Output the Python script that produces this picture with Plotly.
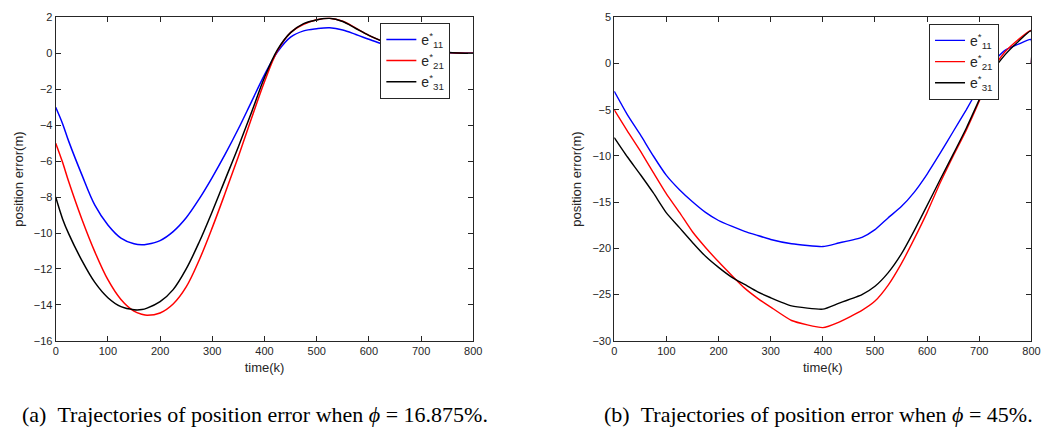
import plotly.graph_objects as go

# ---------------- data: panel (a), phi = 16.875% ----------------
time_a = [0, 13, 25, 50, 75, 100, 125, 150, 165, 175, 200, 225, 250, 275, 300, 325,
          350, 375, 400, 425, 450, 475, 500, 525, 550, 575, 600, 625, 650, 700, 750, 800]
e11_a = [-3.0, -3.9, -4.9, -6.75, -8.45, -9.55, -10.28, -10.6, -10.66, -10.63, -10.42, -9.92,
         -9.15, -8.1, -6.9, -5.6, -4.2, -2.7, -1.2, 0.08, 0.9, 1.25, 1.37, 1.42, 1.3, 1.05,
         0.78, 0.52, 0.3, 0.12, 0.05, 0.0]
e21_a = [-5.0, -6.05, -7.15, -9.22, -11.05, -12.6, -13.7, -14.35, -14.52, -14.58, -14.45, -13.95,
         -13.0, -11.5, -9.7, -7.75, -5.74, -3.63, -1.58, 0.15, 1.15, 1.62, 1.87, 1.95, 1.78,
         1.4, 1.0, 0.68, 0.4, 0.15, 0.05, 0.0]
e31_a = [-8.0, -9.2, -10.05, -11.52, -12.75, -13.6, -14.1, -14.27, -14.26, -14.18, -13.82, -13.15,
         -12.0, -10.5, -8.8, -7.0, -5.2, -3.3, -1.35, 0.2, 1.15, 1.65, 1.86, 1.95, 1.77,
         1.38, 1.0, 0.68, 0.4, 0.15, 0.05, 0.0]

# ---------------- data: panel (b), phi = 45% ----------------
time_b = [0, 25, 50, 75, 100, 125, 150, 175, 200, 225, 250, 275, 300, 340, 400, 430, 475,
          500, 525, 550, 575, 600, 625, 650, 675, 700, 725, 750, 775, 799, 800]
e11_b = [-3.0, -5.52, -7.7, -10.0, -12.1, -13.65, -14.95, -16.1, -16.98, -17.6, -18.15, -18.6,
         -19.03, -19.5, -19.8, -19.42, -18.8, -17.97, -16.7, -15.5, -13.93, -11.95, -9.7,
         -7.35, -5.0, -2.5, 0.1, 1.45, 2.1, 2.6, 0.0]
e21_b = [-5.0, -7.28, -9.45, -11.8, -14.1, -16.1, -18.2, -19.9, -21.45, -22.9, -24.3, -25.4,
         -26.35, -27.8, -28.57, -28.0, -26.7, -25.7, -24.0, -21.7, -19.0, -16.1, -12.9,
         -10.0, -7.2, -4.05, -0.6, 1.3, 2.6, 3.6, 0.0]
e31_b = [-8.0, -10.08, -12.0, -14.0, -16.15, -17.75, -19.35, -20.85, -22.05, -23.1, -23.9, -24.7,
         -25.34, -26.22, -26.57, -25.95, -25.0, -24.1, -22.65, -20.65, -18.1, -15.35, -12.54,
         -9.8, -7.0, -3.9, -0.9, 1.0, 2.4, 3.53, 0.0]

names = ["e<sup>*</sup><sub>11</sub>", "e<sup>*</sup><sub>21</sub>", "e<sup>*</sup><sub>31</sub>"]
colors = ["#0000ff", "#ff0000", "#000000"]

xticks = [0, 100, 200, 300, 400, 500, 600, 700, 800]
yticks_a = [2, 0, -2, -4, -6, -8, -10, -12, -14, -16]
yticks_b = [5, 0, -5, -10, -15, -20, -25, -30]

captions = ["(a)\u00a0\u00a0Trajectories of position error when <i>\u03d5</i> = 16.875%.",
            "(b)\u00a0\u00a0Trajectories of position error when <i>\u03d5</i> = 45%."]

W, H = 1053, 436
fig = go.Figure()

for i, (ys, nm, c) in enumerate(zip([e11_a, e21_a, e31_a], names, colors)):
    fig.add_trace(go.Scatter(x=time_a, y=ys, name=nm, mode="lines",
                             line=dict(color=c, width=1.5, shape="spline", smoothing=1.0),
                             xaxis="x", yaxis="y", legend="legend", legendgroup="a%d" % i))
for i, (ys, nm, c) in enumerate(zip([e11_b, e21_b, e31_b], names, colors)):
    fig.add_trace(go.Scatter(x=time_b, y=ys, name=nm, mode="lines",
                             line=dict(color=c, width=1.4, shape="spline", smoothing=0.5),
                             xaxis="x2", yaxis="y2", legend="legend2", legendgroup="b%d" % i))

axcol = "#262626"
tickfont = dict(family="Liberation Sans, Arial", size=11, color=axcol)
titlefont = dict(family="Liberation Sans, Arial", size=13, color=axcol)

def xax(domain, anchor):
    return dict(domain=domain, anchor=anchor, range=[0, 800], tickvals=xticks,
                ticks="inside", ticklen=5, tickcolor=axcol, showline=True, linecolor=axcol,
                linewidth=1, mirror="ticks", showgrid=False, zeroline=False,
                tickfont=tickfont, title=dict(text="time(k)", font=titlefont, standoff=6))

def yax(domain, anchor, rng, tv):
    return dict(domain=domain, anchor=anchor, range=rng, tickvals=tv,
                ticks="inside", ticklen=5, tickcolor=axcol, showline=True, linecolor=axcol,
                linewidth=1, mirror="ticks", showgrid=False, zeroline=False,
                tickfont=tickfont, title=dict(text="position error(m)", font=titlefont, standoff=7))

legfont = dict(family="Liberation Sans, Arial", size=14, color=axcol)
ydom = [1 - 344.3 / H, 1 - 11.7 / H]
fig.update_layout(
    width=W, height=H, margin=dict(l=0, r=0, t=0, b=0),
    paper_bgcolor="white", plot_bgcolor="white",
    xaxis=xax([53.3 / W, 475.7 / W], "y"),
    yaxis=yax(ydom, "x", [-16, 2], yticks_a),
    xaxis2=xax([618.3 / W, 1040.3 / W], "y2"),
    yaxis2=yax(ydom, "x2", [-30, 5], yticks_b),
    legend=dict(x=381.7 / W, y=1 - 17.3 / H, xanchor="left", yanchor="top",
                bgcolor="white", bordercolor=axcol, borderwidth=1, font=legfont,
                traceorder="normal", itemwidth=30),
    legend2=dict(x=936.7 / W, y=1 - 18.3 / H, xanchor="left", yanchor="top",
                 bgcolor="white", bordercolor=axcol, borderwidth=1, font=legfont,
                 traceorder="normal", itemwidth=30),
    showlegend=True,
)

for cx, txt in zip([255 / W, 825 / W], captions):
    fig.add_annotation(x=cx, y=1 - 420 / H, xref="paper", yref="paper", text=txt,
                       showarrow=False, xanchor="center", yanchor="middle",
                       font=dict(family="Liberation Serif, Times New Roman", size=22, color="black"))

fig.write_html("out.html")
